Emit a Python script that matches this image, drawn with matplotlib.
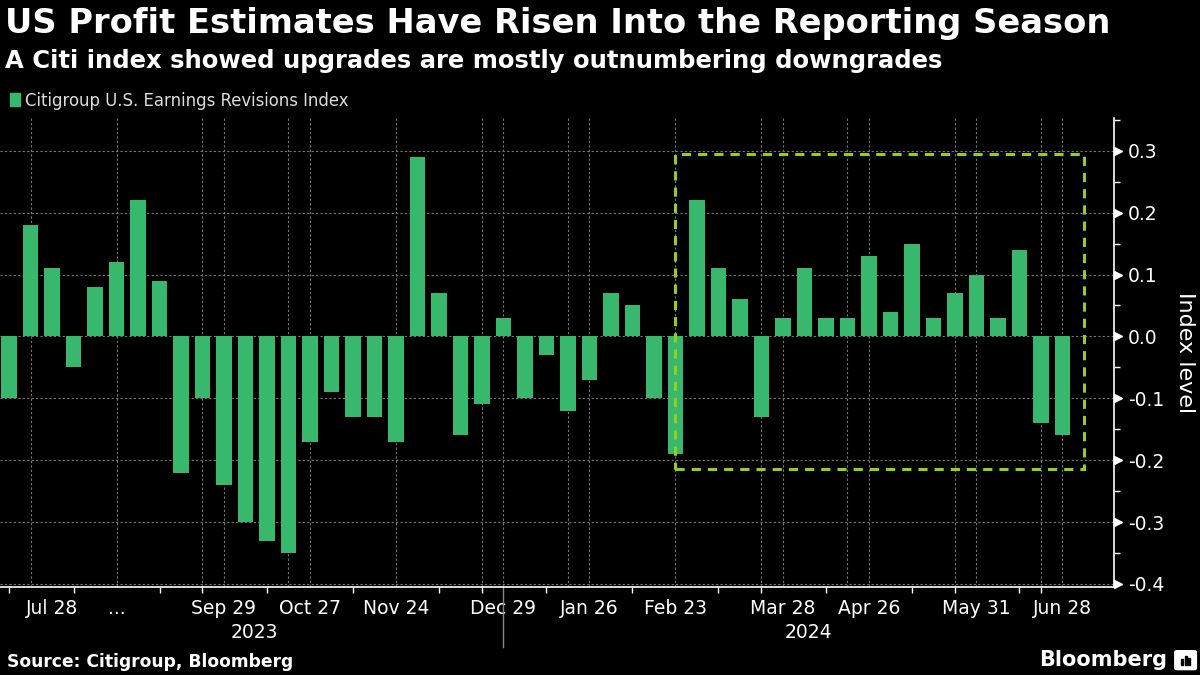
import matplotlib
matplotlib.use("Agg")
import matplotlib.pyplot as plt
from matplotlib.patches import Rectangle, FancyBboxPatch
import numpy as np

# weekly readings of the index, Jul 2023 -> Jun 2024
values = [-0.10, 0.18, 0.11, -0.05, 0.08, 0.12, 0.22, 0.09, -0.22, -0.10,
          -0.24, -0.30, -0.33, -0.35, -0.17, -0.09, -0.13, -0.13, -0.17, 0.29,
          0.07, -0.16, -0.11, 0.03, -0.10, -0.03, -0.12, -0.07, 0.07, 0.05,
          -0.10, -0.19, 0.22, 0.11, 0.06, -0.13, 0.03, 0.11, 0.03, 0.03,
          0.13, 0.04, 0.15, 0.03, 0.07, 0.10, 0.03, 0.14, -0.14, -0.16]

label_pos = [2, 5, 10, 14, 18, 23, 27, 31, 36, 40, 45, 49]
label_txt = ["Jul 28", "...", "Sep 29", "Oct 27", "Nov 24", "Dec 29", "Jan 26",
             "Feb 23", "Mar 28", "Apr 26", "May 31", "Jun 28"]
grid_pos = [1, 5, 9, 10, 13, 14, 18, 22, 23, 26, 27, 31, 35, 36, 39, 40, 44, 45, 48, 49]
tick_pos = [0, 3, 5, 7, 9, 10, 12, 14, 16, 18, 20, 22, 23, 25, 27, 29, 31, 33,
            35, 36, 38, 40, 42, 44, 45, 47, 48, 49]
years = ["2023", "2024"]
year_pos = [11.4, 37.2]
year_split = 23

# highlighted stretch (index range and value range)
box_x = (31, 50)
box_y = (-0.215, 0.295)

BG = "black"
GREEN = "#37b86c"
LIME = "#93d01b"

fig = plt.figure(figsize=(12, 6.75), dpi=100, facecolor=BG)
ax = fig.add_axes([0.0, 0.1304, 0.9283, 0.6948])
ax.set_facecolor(BG)

x = np.arange(len(values))
ax.bar(x, values, width=0.73, color=GREEN, zorder=3)

ax.set_xlim(-0.42, 51.4)
ax.set_ylim(-0.405, 0.353)

# grid
yt = np.round(np.arange(-0.4, 0.31, 0.1), 1)
for v in yt:
    ax.axhline(v, color="#777777", lw=0.8, ls=(0, (2, 2)), zorder=1)
for g in grid_pos:
    ax.axvline(g, color="#777777", lw=0.8, ls=(0, (2, 2)), zorder=1)

# highlight box
ax.add_patch(Rectangle((box_x[0], box_y[0]), box_x[1] - box_x[0], box_y[1] - box_y[0],
                       fill=False, ec=LIME, lw=2.2, ls=(0, (3, 2.3)), zorder=4))

# spines
for s in ["left", "top"]:
    ax.spines[s].set_visible(False)
for s in ["right", "bottom"]:
    ax.spines[s].set_color("white")
    ax.spines[s].set_linewidth(1.2)

# y axis on right with arrow ticks
ax.yaxis.tick_right()
ax.set_yticks(yt)
ax.set_yticklabels([f"{abs(v):.1f}" if v == 0 else f"{v:.1f}" for v in yt])
ax.set_yticks(np.arange(-0.35, 0.36, 0.1), minor=True)
ax.tick_params(axis="y", which="major", length=0, pad=10, labelsize=13.5, labelcolor="white")
ax.tick_params(axis="y", which="minor", length=4, width=1, color="white", direction="out")
ax.plot(np.full(len(yt), 1.0035), yt, marker=">", ms=6, color="white", ls="none",
        transform=ax.get_yaxis_transform(), clip_on=False, zorder=5)
ax.yaxis.set_label_position("right")
ax.set_ylabel("Index level", color="white", fontsize=16, rotation=270, labelpad=22)

# x axis
ax.set_xticks(tick_pos, minor=True)
ax.set_xticks(label_pos)
ax.set_xticklabels(label_txt)
ax.tick_params(axis="x", which="both", length=4, width=1, color="white", direction="out")
ax.tick_params(axis="x", which="major", length=0, pad=9, labelsize=13.5, labelcolor="white")
for i, yr in enumerate(years):
    ax.text(year_pos[i], -0.096, yr, transform=ax.get_xaxis_transform(),
            ha="center", va="center", color="white", fontsize=13.5)
ax.plot([year_split, year_split], [0, -0.128], color="#888888", lw=1,
        transform=ax.get_xaxis_transform(), clip_on=False)

# titles
fig.text(0.004, 0.965, "US Profit Estimates Have Risen Into the Reporting Season",
         color="white", fontsize=24.2, fontweight="bold", va="center", ha="left")
fig.text(0.004, 0.910, "A Citi index showed upgrades are mostly outnumbering downgrades",
         color="white", fontsize=17.5, fontweight="bold", va="center", ha="left")

# legend
fig.patches.append(Rectangle((0.0085, 0.843), 0.0085, 0.0185, transform=fig.transFigure,
                             color=GREEN, figure=fig))
fig.text(0.021, 0.851, "Citigroup U.S. Earnings Revisions Index", color="#dddddd",
         fontsize=11.9, va="center", ha="left")

# footer
fig.text(0.006, 0.019, "Source: Citigroup, Bloomberg", color="white", fontsize=12.3,
         fontweight="bold", va="center", ha="left")
fig.text(0.973, 0.022, "Bloomberg", color="white", fontsize=15, fontweight="bold",
         va="center", ha="right")
fig.patches.append(FancyBboxPatch((0.981, 0.010), 0.014, 0.024, boxstyle="round,pad=0.002",
                                  transform=fig.transFigure, color="white", figure=fig))
for k, h in enumerate([0.008, 0.013, 0.010]):
    fig.patches.append(Rectangle((0.9845 + k * 0.0028, 0.015), 0.0015, h,
                                 transform=fig.transFigure, color="black", figure=fig))

fig.savefig("out.png", dpi=100, facecolor=BG)
